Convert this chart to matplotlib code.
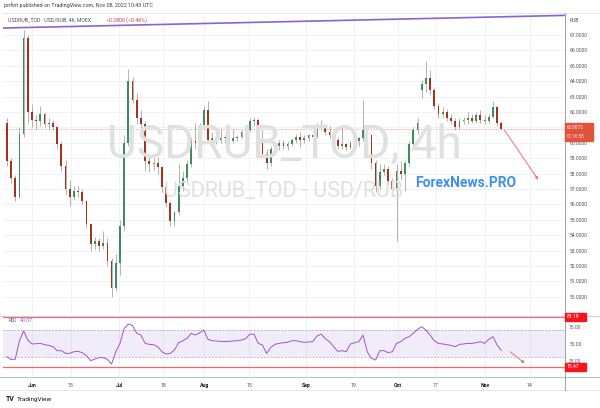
import numpy as np
import matplotlib.pyplot as plt

plt.rcParams['font.family'] = ['Roboto', 'DejaVu Sans']

# one candle per trading day, counted from Jun 1 2022
day = np.arange(-6, 113)

opens = [61.3, 58.8, 57.7, 56.5, 60.6, 66.8,
         62.0, 61.5, 61.4, 61.9, 61.2, 61.3, 61.0, 59.9, 58.5, 57.0,
         56.5, 56.9, 56.8, 56.2, 54.7, 53.4, 53.6, 53.3, 53.5, 52.3,
         50.6, 52.2, 54.6, 60.0, 64.0, 62.8, 61.6, 61.2, 58.8, 58.6,
         58.7, 58.4, 57.1, 56.1, 54.9, 55.5, 57.2, 57.7, 58.6, 60.1,
         60.0, 61.0, 62.1, 60.2, 60.3, 60.2, 60.3, 60.4, 60.1, 60.3,
         60.4, 60.7, 60.8, 61.4, 61.5, 60.0, 59.3, 58.7, 59.6, 59.8,
         60.0, 59.8, 59.9, 60.2, 60.4, 60.2, 60.3, 60.5, 60.4, 61.0,
         61.1, 60.7, 60.5, 60.2, 59.8, 59.9, 59.7, 60.0, 60.1, 60.3,
         60.8, 60.5, 58.7, 57.2, 58.1, 58.3, 57.5, 57.0, 58.2, 58.0,
         58.7, 59.9, 60.8, 63.4, 63.8, 64.2, 63.4, 62.4, 61.9, 62.0,
         61.6, 61.4, 61.0, 61.4, 61.5, 61.6, 61.4, 61.8, 61.5, 61.4,
         61.7, 62.3, 61.3]
highs = [61.6, 59.0, 57.9, 61.0, 67.3, 67.0,
         62.5, 61.8, 62.4, 62.0, 61.6, 61.5, 61.1, 60.1, 58.9, 57.6,
         57.2, 57.2, 57.0, 56.3, 54.8, 53.9, 53.8, 54.3, 53.8, 52.5,
         52.8, 55.0, 60.5, 64.8, 64.3, 63.2, 62.1, 61.4, 59.3, 59.0,
         59.1, 58.5, 57.2, 56.2, 55.6, 58.6, 58.2, 58.9, 60.4, 61.3,
         61.3, 62.4, 62.7, 60.7, 60.5, 60.9, 60.5, 60.6, 60.9, 60.5,
         60.8, 61.0, 61.6, 61.7, 61.6, 60.8, 59.6, 59.8, 60.1, 60.2,
         60.2, 60.1, 60.3, 60.6, 60.7, 60.5, 60.6, 60.6, 61.3, 61.5,
         61.2, 61.1, 60.9, 60.4, 61.0, 60.0, 60.1, 60.3, 60.4, 62.8,
         61.0, 60.6, 58.9, 58.6, 58.6, 58.5, 57.7, 58.6, 58.8, 58.9,
         60.1, 61.0, 61.6, 64.1, 65.3, 64.7, 63.6, 62.6, 62.3, 62.2,
         61.9, 61.6, 61.6, 61.7, 62.0, 61.9, 62.0, 62.1, 61.8, 61.9,
         62.7, 62.4, 61.4]
lows = [58.5, 57.4, 56.2, 56.4, 60.4, 61.3,
        61.0, 60.9, 61.1, 61.0, 60.9, 60.8, 59.6, 58.2, 56.6, 55.9,
        56.3, 56.5, 56.0, 54.5, 53.0, 53.1, 53.0, 53.1, 52.0, 50.0,
        50.4, 51.4, 54.3, 59.8, 62.6, 61.3, 60.9, 58.2, 58.1, 58.2,
        58.0, 56.8, 55.8, 54.6, 54.6, 55.3, 56.9, 57.4, 58.4, 59.6,
        59.8, 60.9, 60.0, 59.9, 59.9, 60.0, 60.0, 59.9, 60.0, 60.1,
        60.3, 60.5, 60.7, 61.1, 59.8, 59.1, 58.3, 58.5, 59.4, 59.5,
        59.6, 59.5, 59.8, 60.0, 59.7, 60.0, 60.1, 60.2, 60.3, 60.8,
        60.5, 60.3, 60.1, 59.6, 59.6, 59.5, 59.6, 59.8, 59.8, 60.1,
        60.2, 58.3, 56.8, 57.0, 57.9, 57.3, 56.8, 53.6, 57.6, 56.9,
        58.5, 59.7, 60.6, 62.9, 63.3, 63.1, 62.2, 61.6, 61.6, 61.4,
        61.2, 60.8, 60.9, 61.2, 61.2, 61.3, 61.3, 61.3, 61.2, 61.3,
        61.6, 61.1, 60.8]
closes = [58.8, 57.7, 56.5, 60.6, 66.8, 62.0,
          61.5, 61.4, 61.9, 61.2, 61.3, 61.0, 59.9, 58.5, 57.0, 56.5,
          56.9, 56.8, 56.2, 54.7, 53.4, 53.6, 53.3, 53.5, 52.3, 50.6,
          52.2, 54.6, 60.0, 64.0, 62.8, 61.6, 61.2, 58.8, 58.6, 58.7,
          58.4, 57.1, 56.1, 54.9, 55.5, 57.2, 57.7, 58.6, 60.1, 60.0,
          61.0, 62.1, 60.2, 60.3, 60.2, 60.3, 60.4, 60.1, 60.3, 60.4,
          60.7, 60.8, 61.4, 61.5, 60.0, 59.3, 58.7, 59.6, 59.8, 60.0,
          59.8, 59.9, 60.2, 60.4, 60.2, 60.3, 60.5, 60.4, 61.0, 61.1,
          60.7, 60.5, 60.2, 59.8, 59.9, 59.7, 60.0, 60.1, 60.3, 60.8,
          60.5, 58.7, 57.2, 58.1, 58.3, 57.5, 57.0, 58.2, 58.0, 58.7,
          59.9, 60.8, 61.3, 63.8, 64.2, 63.4, 62.4, 61.9, 62.0, 61.6,
          61.4, 61.0, 61.4, 61.5, 61.6, 61.4, 61.8, 61.5, 61.4, 61.7,
          62.3, 61.3, 60.8875]
rsi = [31.0, 27.1, 27.1, 54.4, 68.6, 55.4,
       49.6, 50.0, 50.5, 48.6, 47.6, 45.6, 39.8, 39.8, 35.9, 35.9,
       38.3, 38.8, 36.9, 32.5, 25.2, 27.6, 29.6, 29.6, 27.1, 20.3,
       38.3, 50.5, 72.5, 78.8, 76.4, 65.2, 62.7, 50.5, 49.1, 48.6,
       45.6, 38.3, 34.9, 35.9, 40.8, 51.5, 54.4, 57.9, 65.2, 62.7,
       66.1, 70.1, 56.4, 54.4, 54.0, 53.5, 53.0, 53.5, 54.0, 54.4,
       55.4, 57.4, 64.2, 63.7, 50.5, 48.1, 35.9, 44.7, 49.1, 50.5,
       51.5, 52.0, 54.4, 54.4, 53.0, 52.0, 52.5, 53.0, 61.3, 64.2,
       57.4, 53.0, 45.6, 38.8, 39.8, 38.3, 49.6, 51.5, 53.0, 62.7,
       38.3, 28.6, 26.1, 39.8, 39.8, 36.9, 38.3, 50.5, 53.0, 57.9,
       60.3, 65.2, 71.0, 74.9, 70.1, 62.7, 54.4, 50.5, 49.6, 48.6,
       47.6, 45.6, 49.1, 49.6, 50.5, 50.5, 51.5, 53.0, 50.5, 56.4,
       60.3, 48.1, 40.07]

tick_pos = [0, 9.3, 20.8, 31.3, 41.1, 51.8, 65.4, 76.8, 87.3, 96.4, 108.1, 118.8]
tick_lab = ['Jun', '15', 'Jul', '18', 'Aug', '15', 'Sep', '19', 'Oct', '17', 'Nov', '14']
months = {'Jun', 'Jul', 'Aug', 'Sep', 'Oct', 'Nov'}
price_ticks = np.arange(50, 68)
last_price = 60.8875
rsi_max, rsi_min = 89.19, 15.47

# drawings on the chart
trend_x, trend_y = [-6.9, 127.2], [67.45, 68.27]
arrow_x, arrow_y = [112.4, 121.2], [60.96, 57.45]
rsi_arrow_x, rsi_arrow_y = [113.6, 118.1], [40.8, 18.8]

W, H = 600, 408
fig = plt.figure(figsize=(6, 4.08), dpi=100)
fig.patch.set_facecolor('white')


def fx(x):
    return x / W


def fy(y):
    return 1 - y / H


ax = fig.add_axes([fx(3), fy(315), fx(565) - fx(3), fy(14) - fy(315)])
rx = fig.add_axes([fx(3), fy(377), fx(565) - fx(3), fy(316) - fy(377)], sharex=ax)

o = np.array(opens)
c = np.array(closes)
up = c >= o
cols = np.where(up, '#3f8c5c', '#a3321f')

ax.vlines(day, lows, highs, color='#9e9e9e', lw=0.55, zorder=2)
ax.bar(day, np.maximum(np.abs(c - o), 0.06), bottom=np.minimum(o, c), width=0.42,
       color=cols, linewidth=0, zorder=3)

ax.set_xlim(-6.92, 127.2)
ax.set_ylim(48.82, 68.36)
ax.set_yticks(price_ticks)
# the 61 label sits under the last-price tag, as in TradingView
ax.set_yticklabels(['' if abs(p - last_price) < 0.5 else '%.4f' % p for p in price_ticks])
ax.set_xticks(tick_pos)
ax.yaxis.tick_right()
ax.tick_params(axis='y', length=0, labelsize=3.6, colors='#50535e', pad=3)
ax.tick_params(axis='x', length=0, labelbottom=False)
ax.grid(color='#eef0f3', lw=0.6, zorder=0)
for s in ax.spines.values():
    s.set_visible(False)

# trend line, last price line, arrow
ax.plot(trend_x, trend_y, color='#8a62d6', lw=1.2, zorder=4)
ax.axhline(last_price, color='#f09a9a', lw=0.6, ls=(0, (1.5, 1.5)), zorder=1)
ax.annotate('', xy=(arrow_x[1], arrow_y[1]), xytext=(arrow_x[0], arrow_y[0]),
            arrowprops=dict(arrowstyle='-|>', color='#f07070', lw=0.7,
                            mutation_scale=4))

# watermark
fig.text(fx(284), fy(157), 'USDRUB_TOD, 4h', fontsize=33, color='#e0e0e0',
         ha='center', va='baseline', zorder=0)
fig.text(fx(284), fy(197), 'USDRUB_TOD - USD/RUB', fontsize=15.5, color='#e0e0e0',
         ha='center', va='baseline', zorder=0)
fig.text(fx(466), fy(187), 'ForexNews.PRO', fontsize=10, color='#3f8fef',
         fontweight='bold', ha='center', va='baseline', zorder=5)

# RSI pane
rx.axhspan(30, 70, color='#7e57c2', alpha=0.1, lw=0)
rx.axhline(70, color='#a99cc7', lw=0.5, ls=(0, (3, 2)))
rx.axhline(30, color='#a99cc7', lw=0.5, ls=(0, (3, 2)))
rx.axhline(rsi_max, color='#f06a6a', lw=0.9)
rx.axhline(rsi_min, color='#f06a6a', lw=0.9)
rx.plot(day, rsi, color='#a552c9', lw=0.7)
rx.annotate('', xy=(rsi_arrow_x[1], rsi_arrow_y[1]), xytext=(rsi_arrow_x[0], rsi_arrow_y[0]),
            arrowprops=dict(arrowstyle='-|>', color='#f07070', lw=0.7,
                            mutation_scale=4))
rx.set_ylim(1.25, 90.6)
rx.set_yticks([25, 50, 75])
rx.set_yticklabels(['25.00', '50.00', '75.00'])
rx.yaxis.tick_right()
rx.tick_params(axis='y', length=0, labelsize=3.6, colors='#50535e', pad=3)
rx.set_xticks(tick_pos)
rx.set_xticklabels(tick_lab)
rx.tick_params(axis='x', length=0, labelsize=3.8, pad=4.5)
for lab in rx.get_xticklabels():
    if lab.get_text() in months:
        lab.set_color('#131722')
        lab.set_fontweight('bold')
    else:
        lab.set_color('#50535e')
rx.grid(axis='x', color='#eef0f3', lw=0.6, zorder=0)
rx.set_axisbelow(True)
for s in rx.spines.values():
    s.set_visible(False)

# frame lines
fig.add_artist(plt.Line2D([fx(3), fx(600)], [fy(13), fy(13)], color='#e0e3eb', lw=0.6))
fig.add_artist(plt.Line2D([fx(0), fx(600)], [fy(315.5), fy(315.5)], color='#d1d4dc', lw=0.8))
fig.add_artist(plt.Line2D([fx(0), fx(600)], [fy(377), fy(377)], color='#b2b5be', lw=0.6))
fig.add_artist(plt.Line2D([fx(0), fx(600)], [fy(390), fy(390)], color='#e0e3eb', lw=0.6))
fig.add_artist(plt.Line2D([fx(565), fx(565)], [fy(13), fy(390)], color='#8f939c', lw=0.6))

# header and legends
fig.text(fx(3), fy(5), 'jonfint published on TradingView.com, Nov 08, 2022 10:43 UTC',
         fontsize=3.9, color='#3a3d45', va='center')
fig.text(fx(8), fy(20), 'USDRUB_TOD · USD/RUB, 4h, MOEX', fontsize=3.8,
         color='#50535e', va='center')
fig.text(fx(106), fy(20), '\u22120.2800 (\u22120.46%)', fontsize=3.8,
         color='#d0463a', va='center')
fig.text(fx(570), fy(20), 'RUB', fontsize=3.6, color='#50535e', va='center')
fig.text(fx(9), fy(320), 'RSI', fontsize=3.8, color='#50535e', va='center')
fig.text(fx(20), fy(320), '40.07', fontsize=3.8, color='#a552c9', va='center')

# value tags on the price scale
fig.patches.append(plt.Rectangle((fx(565), fy(141)), fx(28), fy(123) - fy(141),
                                 transform=fig.transFigure, color='#e0533c', zorder=5))
fig.text(fx(567), fy(127.5), '%.4f' % last_price, fontsize=3.3, color='#ffe9e6',
         va='center', zorder=6)
fig.text(fx(567), fy(136.5), '01:16:58', fontsize=3.3, color='#ffe9e6',
         va='center', zorder=6)
for v, yy in [(rsi_max, 317), (rsi_min, 367)]:
    fig.patches.append(plt.Rectangle((fx(565), fy(yy + 4)), fx(21), fy(yy - 4) - fy(yy + 4),
                                     transform=fig.transFigure, color='#f7141c', zorder=5))
    fig.text(fx(567), fy(yy), '%.2f' % v, fontsize=3.6, color='white', va='center', zorder=6)

# footer logo
fig.text(fx(6), fy(399), 'TV', fontsize=5, color='#131722', fontweight='bold', va='center')
fig.text(fx(17), fy(399), 'TradingView', fontsize=4.6, color='#131722', va='center')

fig.savefig('out.png', dpi=100, facecolor='white')
